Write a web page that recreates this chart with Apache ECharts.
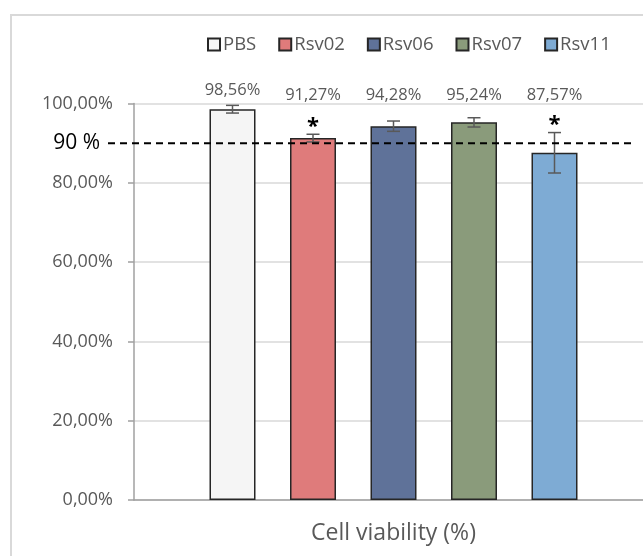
<!DOCTYPE html>
<html>
<head>
<meta charset="utf-8">
<script src="https://cdn.jsdelivr.net/npm/echarts@6/dist/echarts.min.js"></script>
<style>
  html, body {margin:0; padding:0; background:#fff;}
  #chart {width:643px; height:556px;}
</style>
</head>
<body>
<div id="chart"></div>
<script>
// data
const categories = ['']
const seriesNames = ['PBS', 'Rsv02', 'Rsv06', 'Rsv07', 'Rsv11']
const viability = [98.56, 91.27, 94.28, 95.24, 87.57]
const errors = [0.97, 0.97, 1.3, 1.17, 5.1]
const marks = ['', '*', '', '', '*']
const threshold = 90
const thresholdText = '90 %'
const axisTitle = 'Cell viability (%)'
const yMin = 0, yMax = 100, yStep = 20

const colors = ['#f5f5f5', '#df7b7b', '#5f7299', '#8a9b7b', '#7eabd4']
const FONT = '"Open Sans", "Noto Sans", sans-serif'
const BAR_W = 46, BAR_GAP = 0.75

let pct = (v)=>{ return v.toFixed(2).replace('.', ',') + '%' }

// bar centres inside the single category
function barX(api, i){
  let c = api.coord([0, 0])[0]
  return c + (i - (seriesNames.length - 1) / 2) * BAR_W * (1 + BAR_GAP)
}

function renderExtras(params, api){
  let i = params.dataIndex
  let v = api.value(1), e = api.value(2)
  let x = barX(api, i)
  let top = api.coord([0, v + e])[1]
  let bot = api.coord([0, v - e])[1]
  let plotTop = api.coord([0, yMax])[1]
  let errStyle = {stroke: '#595959', lineWidth: 1.5}
  let kids = [
    {type: 'line', shape: {x1: x, y1: top, x2: x, y2: bot}, style: errStyle},
    {type: 'line', shape: {x1: x - 6.5, y1: top, x2: x + 6.5, y2: top}, style: errStyle},
    {type: 'line', shape: {x1: x - 6.5, y1: bot, x2: x + 6.5, y2: bot}, style: errStyle},
    {
      type: 'text',
      style: {
        x: x, y: plotTop - (i == 0 ? 13.5 : 8.5),
        text: pct(v), fill: '#595959',
        font: '16.5px ' + FONT, textAlign: 'center', textVerticalAlign: 'middle'
      }
    }
  ]
  if(marks[i]){
    kids.push({
      type: 'text',
      style: {
        x: x, y: top - 8,
        text: marks[i], fill: '#000',
        font: 'bold 22px ' + FONT, textAlign: 'center', textVerticalAlign: 'middle'
      }
    })
  }
  return {type: 'group', children: kids}
}

let barSeries = seriesNames.map((name, i)=>{
  return {
    name: name,
    type: 'bar',
    data: [viability[i]],
    barWidth: BAR_W,
    barGap: (BAR_GAP * 100) + '%',
    itemStyle: {color: colors[i], borderColor: '#262626', borderWidth: 1.5},
    emphasis: {disabled: true}
  }
})

let option = {
  animation: false,
  backgroundColor: '#fff',
  legend: {
    data: seriesNames,
    icon: 'rect',
    left: 207,
    top: 35,
    padding: 0,
    itemWidth: 12,
    itemHeight: 12,
    itemGap: 22,
    textStyle: {color: '#595959', fontSize: 18.5, fontFamily: FONT, padding: [0, 0, 0, -2]}
  },
  grid: {left: 134, right: -10, top: 103.5, bottom: 56, containLabel: false, outerBoundsMode: 'none'},
  xAxis: {
    type: 'category',
    data: categories,
    name: axisTitle,
    nameLocation: 'middle',
    nameGap: 21.5,
    nameTextStyle: {color: '#595959', fontSize: 23, fontFamily: FONT},
    axisLine: {lineStyle: {color: '#a0a0a0', width: 1.5}},
    axisTick: {show: false},
    axisLabel: {show: false}
  },
  yAxis: {
    type: 'value',
    min: yMin,
    max: yMax,
    interval: yStep,
    axisLine: {show: true, lineStyle: {color: '#a0a0a0', width: 1.5}},
    axisTick: {show: true, length: 6, lineStyle: {color: '#a0a0a0', width: 1.5}},
    axisLabel: {
      margin: 21,
      color: '#595959',
      fontSize: 18,
      fontFamily: FONT,
      formatter: pct
    },
    splitLine: {lineStyle: {color: '#d9d9d9', width: 1.5}}
  },
  series: barSeries.concat([{
    type: 'custom',
    clip: false,
    z: 5,
    silent: true,
    renderItem: renderExtras,
    data: viability.map((v, i)=>{ return [0, v, errors[i]] })
  }])
}

let myChart = echarts.init(document.getElementById('chart'))
myChart.setOption(option)

// frame + 90 % threshold line, placed from the axis scale
let yT = myChart.convertToPixel({yAxisIndex: 0}, threshold)
myChart.setOption({
  graphic: [
    {
      type: 'rect', silent: true, z: -1,
      shape: {x: 11, y: 15, width: 700, height: 600},
      style: {fill: 'none', stroke: '#d9d9d9', lineWidth: 2}
    },
    {
      type: 'line', silent: true, z: 10,
      shape: {x1: 108, y1: yT, x2: 634, y2: yT},
      style: {stroke: '#000', lineWidth: 2, lineDash: [7, 5]}
    },
    {
      type: 'text', silent: true, z: 10,
      x: 100, y: yT,
      style: {text: thresholdText, fill: '#000', font: '21px ' + FONT, textAlign: 'right', textVerticalAlign: 'middle'}
    }
  ]
})
window.onresize = myChart.resize
</script>
</body>
</html>
